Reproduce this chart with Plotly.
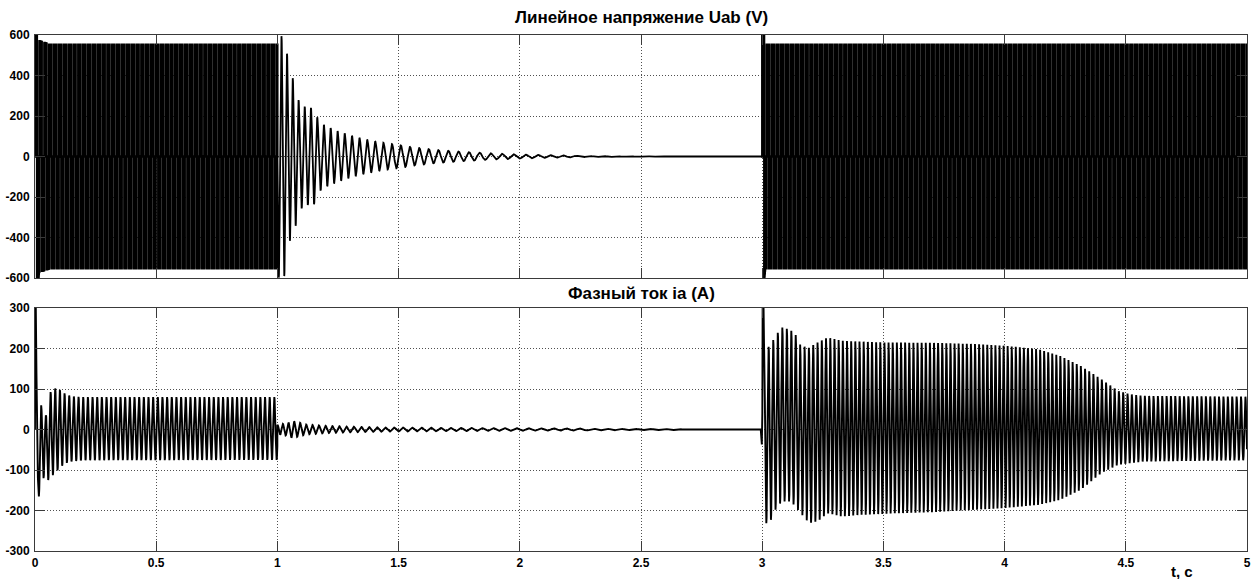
import numpy as np
import plotly.graph_objects as go

# ---------------- axes / tick labels ----------------
X_TICKS = [0, 0.5, 1, 1.5, 2, 2.5, 3, 3.5, 4, 4.5, 5]
X_TICK_TEXT = ["0", "0.5", "1", "1.5", "2", "2.5", "3", "3.5", "4", "4.5", "5"]
U_TICKS = [-600, -400, -200, 0, 200, 400, 600]
U_TICK_TEXT = ["-600", "-400", "-200", "0", "200", "400", "600"]
I_TICKS = [-300, -200, -100, 0, 100, 200, 300]
I_TICK_TEXT = ["-300", "-200", "-100", "0", "100", "200", "300"]

TITLE_U = "Линейное напряжение Uab (V)"
TITLE_I = "Фазный ток ia (A)"
X_LABEL = "t, c"

# ---------------- Uab : inverter PWM ----------------
U_ON_WINDOWS = [(0.0, 1.0), (3.0, 5.0)]          # s, inverter switching
U_LEVEL_T = [0.0, 0.012, 0.016, 0.06, 1.0, 3.0, 3.006, 3.012, 5.0]
U_LEVEL_V = [640, 640, 570, 552, 552, 640, 640, 552, 552]   # V, pulse height
U_FUND_HZ = 50.0
U_CARRIER_HZ = 1050.0
U_MOD_INDEX = 0.9

# Uab after switch-off: decaying back-EMF (envelope & frequency)
U_DECAY_T = [1.0, 1.03, 1.05, 1.07, 1.09, 1.12, 1.15, 1.17, 1.2, 1.25, 1.3, 1.35,
             1.4, 1.45, 1.5, 1.55, 1.65, 1.75, 1.87, 2.0, 2.1, 2.25, 2.4, 2.62, 2.65, 3.0]
U_DECAY_A = [600, 590, 420, 370, 265, 240, 240, 175, 150, 125, 105, 88,
             76, 65, 57, 47, 33, 24, 16, 10, 7, 3.5, 2, 1, 0, 0]
DECAY_F_T = [1.0, 1.1, 1.2, 1.5, 2.0, 2.6, 3.0]
DECAY_F = [45, 40, 36, 27, 20, 16, 15]

# ---------------- ia : phase current ----------------
I_START_T = [0.0, 0.001, 0.003, 0.006, 0.009, 0.012, 0.016]
I_START_V = [0, 340, 320, 140, -40, -120, -165]

I_A_UP_T = [0.016, 0.026, 0.045, 0.065, 0.085, 0.105, 0.125, 0.15, 0.2, 1.0]
I_A_UP_V = [60, 60, 35, 95, 102, 97, 88, 82, 80, 80]
I_A_LO_T = [0.016, 0.035, 0.055, 0.075, 0.095, 0.115, 0.14, 0.2, 1.0]
I_A_LO_V = [-165, -120, -125, -112, -100, -88, -80, -76, -75]
I_A_F = 52.0

I_B_T = [1.0, 1.04, 1.06, 1.09, 1.12, 1.2, 1.3, 1.45, 1.7, 2.0, 2.4, 2.65, 2.68, 2.994]
I_B_A = [12, 15, 21, 17, 12, 9, 7, 5, 4, 3, 2, 1.5, 0, 0]

I_JUMP_T = [2.994, 2.9985, 3.0005, 3.002, 3.005, 3.008]
I_JUMP_V = [0, -37, 40, 340, 330, 190]

I_C_UP_T = [3.008, 3.03, 3.055, 3.08, 3.107, 3.133, 3.159, 3.193, 3.228, 3.27, 3.33, 3.5,
            3.71, 3.883, 4.0, 4.141, 4.228, 4.314, 4.4, 4.469, 4.52, 4.572, 5.0]
I_C_UP_V = [200, 205, 231, 252, 248, 240, 207, 202, 215, 227, 219, 215,
            214, 211, 207, 198, 182, 157, 124, 95, 87, 83, 81]
I_C_LO_T = [3.008, 3.03, 3.055, 3.08, 3.12, 3.159, 3.193, 3.228, 3.27, 3.33, 3.4, 3.55,
            3.71, 3.883, 4.0, 4.141, 4.228, 4.314, 4.4, 4.469, 4.572, 5.0]
I_C_LO_V = [-232, -231, -198, -178, -178, -207, -231, -227, -207, -215, -211, -207,
            -204, -198, -194, -186, -174, -149, -107, -87, -79, -76]
I_C_F_T = [3.0, 3.3, 4.2, 4.5, 5.0]
I_C_F = [52, 58, 60, 56, 55]


# ---------------- waveform construction ----------------
def pwm_segment(t0, t1, fs=50000.0):
    t = np.arange(t0, t1, 1.0 / fs)
    wt = 2 * np.pi * U_FUND_HZ * t
    tri = 2 * np.abs(2 * ((t * U_CARRIER_HZ) % 1.0) - 1) - 1
    sa = (U_MOD_INDEX * np.sin(wt) > tri).astype(int)
    sb = (U_MOD_INDEX * np.sin(wt - 2 * np.pi / 3) > tri).astype(int)
    state = sa - sb
    keep = np.concatenate([[True], np.diff(state) != 0])
    keep[-1] = True
    tk = t[keep]
    vk = state[keep] * np.interp(tk, U_LEVEL_T, U_LEVEL_V)
    return tk, vk


def phase_from_freq(t, ft, fv, t_ref, phase_ref):
    f = np.interp(t, ft, fv)
    ph = np.concatenate([[0.0], np.cumsum(0.5 * (f[1:] + f[:-1]) * np.diff(t))]) * 2 * np.pi
    ph_ref = np.interp(t_ref, t, ph)
    return ph - ph_ref + phase_ref


def env_wave(t, up_t, up_v, lo_t, lo_v, phase):
    up = np.interp(t, up_t, up_v)
    lo = np.interp(t, lo_t, lo_v)
    return 0.5 * (up + lo) + 0.5 * (up - lo) * np.cos(phase)


FS = 4000.0

# Uab decay
td = np.arange(1.0, 3.0, 1.0 / FS)
ph_d = phase_from_freq(td, DECAY_F_T, DECAY_F, 1.0, np.pi / 2)
ud = np.interp(td, U_DECAY_T, U_DECAY_A) * np.cos(ph_d)

# ia window A
ta = np.arange(0.016, 1.0, 1.0 / FS)
ph_a = phase_from_freq(ta, [0, 1], [I_A_F, I_A_F], 0.016, np.pi)
ia = env_wave(ta, I_A_UP_T, I_A_UP_V, I_A_LO_T, I_A_LO_V, ph_a)

# ia window B
tb = np.arange(1.0, 2.994, 1.0 / FS)
ph_b = phase_from_freq(tb, DECAY_F_T, DECAY_F, 1.0, 0.0)
ib = np.interp(tb, I_B_T, I_B_A) * np.cos(ph_b)

# ia window C
tc = np.arange(3.008, 5.0 + 1e-9, 1.0 / FS)
ph_c = phase_from_freq(tc, I_C_F_T, I_C_F, 3.017, np.pi)
ic = env_wave(tc, I_C_UP_T, I_C_UP_V, I_C_LO_T, I_C_LO_V, ph_c)

t_i = np.concatenate([I_START_T, ta, tb, I_JUMP_T, tc])
v_i = np.concatenate([I_START_V, ia, ib, I_JUMP_V, ic])

# ---------------- figure ----------------
fig = go.Figure()
for (a, b) in U_ON_WINDOWS:
    tk, vk = pwm_segment(a, b)
    fig.add_trace(go.Scatter(x=tk, y=vk, mode="lines",
                             line=dict(shape="hv", color="black", width=2.4),
                             xaxis="x", yaxis="y", showlegend=False, hoverinfo="skip"))
fig.add_trace(go.Scatter(x=td, y=ud, mode="lines", line=dict(color="black", width=1.8),
                         xaxis="x", yaxis="y", showlegend=False, hoverinfo="skip"))
fig.add_trace(go.Scatter(x=t_i, y=v_i, mode="lines", line=dict(color="black", width=1.9),
                         xaxis="x2", yaxis="y2", showlegend=False, hoverinfo="skip"))

FONT = "Liberation Sans, Arial, sans-serif"
TICKFONT = dict(family=FONT, size=12, color="black", weight="bold")
common = dict(showline=True, linecolor="#3a3a3a", linewidth=1, mirror="ticks",
              ticks="inside", ticklen=10, tickcolor="#3a3a3a", tickwidth=1,
              showgrid=True, gridcolor="#505050", gridwidth=1, griddash="1px,2px",
              zeroline=False, tickfont=TICKFONT, fixedrange=True, automargin=False)

PLOT_L, PLOT_R, PLOT_T, PLOT_B = 35, 1247, 35, 551     # plot area in pixels
H = PLOT_B - PLOT_T
top_lo = (243 + 30) / H
bot_hi = 243 / H
TFONT = dict(family=FONT, size=17, color="black", weight="bold")

fig.update_layout(
    width=1255, height=579,
    margin=dict(l=PLOT_L, r=1255 - PLOT_R, t=PLOT_T, b=579 - PLOT_B, autoexpand=False),
    paper_bgcolor="white", plot_bgcolor="white",
    xaxis=dict(domain=[0, 1], anchor="y", range=[0, 5], tickvals=X_TICKS,
               ticktext=X_TICK_TEXT, showticklabels=False, **common),
    yaxis=dict(domain=[top_lo, 1], anchor="x", range=[-600, 600], tickvals=U_TICKS,
               ticktext=U_TICK_TEXT, ticklabelstandoff=2, **common),
    xaxis2=dict(domain=[0, 1], anchor="y2", range=[0, 5], tickvals=X_TICKS,
                ticktext=X_TICK_TEXT, ticklabelstandoff=1, **common),
    yaxis2=dict(domain=[0, bot_hi], anchor="x2", range=[-300, 300], tickvals=I_TICKS,
                ticktext=I_TICK_TEXT, ticklabelstandoff=2, **common),
    annotations=[
        dict(text=TITLE_U, xref="paper", yref="paper", x=0.5, y=(PLOT_B - 18) / H,
             yanchor="middle", showarrow=False, font=TFONT),
        dict(text=TITLE_I, xref="paper", yref="paper", x=0.5, y=(PLOT_B - 293) / H,
             yanchor="middle", showarrow=False, font=TFONT),
        dict(text=X_LABEL, xref="paper", yref="paper", x=(1195 - PLOT_L) / (PLOT_R - PLOT_L),
             y=(PLOT_B - 571) / H, yanchor="middle", showarrow=False,
             font=dict(family=FONT, size=15, color="black", weight="bold")),
    ],
)

# remove the browser's default 8 px body margin so the figure sits at (0, 0)
fig.write_html("out.html", config={"displayModeBar": False},
               post_script="document.body.style.margin='0px';")
